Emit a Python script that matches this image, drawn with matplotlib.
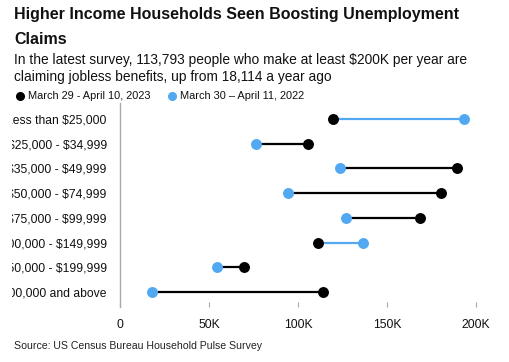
import numpy as np
import matplotlib
matplotlib.use('Agg')
import matplotlib.pyplot as plt
from matplotlib.transforms import Bbox

plt.rcParams['font.family'] = ['Liberation Sans', 'DejaVu Sans']

# Income brackets (top to bottom)
brackets = ['Less than $25,000', '$25,000 - $34,999', '$35,000 - $49,999',
            '$50,000 - $74,999', '$75,000 - $99,999', '$100,000 - $149,999',
            '$150,000 - $199,999', '$200,000 and above']

# People claiming jobless benefits
claims_2023 = [119700, 105800, 189000, 180300, 168500, 111200, 69700, 113793]
claims_2022 = [193000, 76200, 123400, 94200, 126800, 136300, 54700, 18114]

x_ticks = [0, 50000, 100000, 150000, 200000]
x_tick_labels = ['0', '50K', '100K', '150K', '200K']

label_2023 = 'March 29 - April 10, 2023'
label_2022 = 'March 30 \u2013 April 11, 2022'

blue = '#52A9F2'
black = '#000000'
gray = '#AAAAAA'

W, H = 510, 362
fig = plt.figure(figsize=(W / 100, H / 100), dpi=100)

# axes in pixel coords
left, right, top, bottom = 120, 494, 103, 307
ax = fig.add_axes([left / W, 1 - bottom / H, (right - left) / W, (bottom - top) / H])

y = np.arange(len(brackets))
for i in range(len(brackets)):
    a, b = claims_2023[i], claims_2022[i]
    seg_color = black if a >= b else blue
    ax.plot([a, b], [y[i], y[i]], color=seg_color, lw=1.6, solid_capstyle='butt', zorder=2)
ax.scatter(claims_2023, y, s=62, color=black, zorder=3, linewidths=0)
ax.scatter(claims_2022, y, s=62, color=blue, zorder=3, linewidths=0)

ax.set_xlim(0, 210000)
ax.set_ylim(len(brackets) - 1 + 0.6, -0.64)
ax.set_yticks(y)
ax.set_yticklabels(brackets, fontsize=8.7, color='#111111')
ax.set_xticks(x_ticks)
ax.set_xticklabels(x_tick_labels, fontsize=8.7, color='#111111')

# the original is cropped on the left, cutting the long labels
clip = Bbox.from_extents(12, 0, W, H)
for t in ax.get_yticklabels():
    t.set_parse_math(False)
    t.set_clip_box(clip)
    t.set_clip_on(True)

for s in ['top', 'right', 'bottom']:
    ax.spines[s].set_visible(False)
ax.spines['left'].set_color(gray)
ax.spines['left'].set_linewidth(1.0)
ax.tick_params(axis='y', length=0, pad=9.5)
ax.tick_params(axis='x', direction='in', length=3.5, color=gray, width=0.8, pad=9)

# Header texts
fig.text(14 / W, 1 - 15 / H, 'Higher Income Households Seen Boosting Unemployment',
         fontsize=11.5, fontweight='bold', va='center', ha='left', color='#111111')
fig.text(14 / W, 1 - 39 / H, 'Claims',
         fontsize=11.5, fontweight='bold', va='center', ha='left', color='#111111')
fig.text(14 / W, 1 - 60 / H,
         'In the latest survey, 113,793 people who make at least $200K per year are',
         fontsize=9.95, va='center', ha='left', color='#111111', parse_math=False)
fig.text(14 / W, 1 - 77 / H, 'claiming jobless benefits, up from 18,114 a year ago',
         fontsize=9.95, va='center', ha='left', color='#111111')

# Legend
fig.lines.append(plt.Line2D([20 / W], [1 - 96 / H], marker='o', markersize=5.5,
                            color=black, transform=fig.transFigure, linestyle='none'))
fig.text(28 / W, 1 - 96 / H, label_2023, fontsize=7.9, va='center', ha='left', color='#111111')
fig.lines.append(plt.Line2D([172 / W], [1 - 96 / H], marker='o', markersize=5.5,
                            color=blue, transform=fig.transFigure, linestyle='none'))
fig.text(180 / W, 1 - 96 / H, label_2022, fontsize=7.9, va='center', ha='left', color='#111111')

fig.text(14 / W, 1 - 346 / H, 'Source: US Census Bureau Household Pulse Survey',
         fontsize=7.6, va='center', ha='left', color='#222222')

fig.savefig('out.png', dpi=100)
